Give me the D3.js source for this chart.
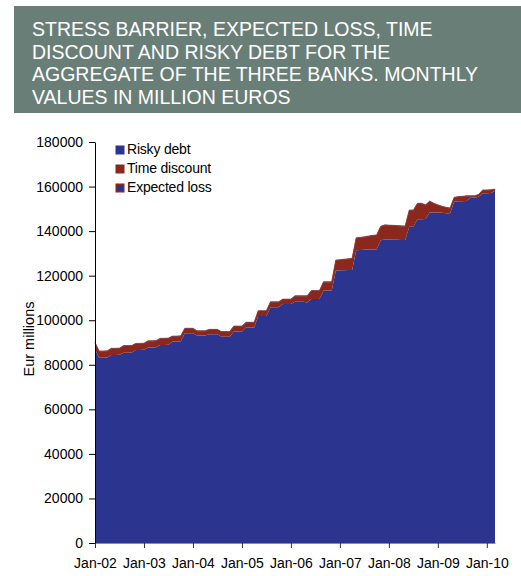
<!DOCTYPE html>
<html>
<head>
<meta charset="utf-8">
<script src="https://cdn.jsdelivr.net/npm/d3@7/dist/d3.min.js"></script>
<style>
  html, body { margin: 0; padding: 0; background: #ffffff; }
  svg { display: block; font-family: "Liberation Sans", Arial, sans-serif; }
</style>
</head>
<body>
<svg id="chart" width="521" height="576"></svg>
<script>
// Monthly values, Jan-02 to Mar-10 (EUR millions)
const titleLines = [
  "STRESS BARRIER, EXPECTED LOSS, TIME",
  "DISCOUNT AND RISKY DEBT FOR THE",
  "AGGREGATE OF THE THREE BANKS. MONTHLY",
  "VALUES IN MILLION EUROS"
];

const seriesNames = ["Risky debt", "Time discount", "Expected loss"];

const riskyDebt = [
  87000, 83200, 83200, 83300, 84400, 84400, 84500, 85400, 85400, 85500,
  86600, 86600, 86700, 87800, 87800, 87900, 88900, 88900, 89000, 90400,
  90400, 90500, 94100, 94100, 94100, 93100, 93100, 93100, 93700, 93700,
  93700, 92600, 92600, 92600, 94900, 94900, 94900, 96700, 96700, 96700,
  101900, 101900, 101900, 105800, 105800, 105800, 107300, 107300, 107300, 108300,
  108300, 108300, 108000, 109500, 109500, 109500, 113300, 113300, 113300, 122200,
  122400, 122400, 122500, 122500, 131400, 131500, 131600, 131700, 131800, 131800,
  135900, 136200, 136200, 136100, 136100, 136000, 136000, 142000, 142000, 145300,
  145300, 145400, 148400, 148400, 148300, 148200, 148000, 148000, 153200, 153400,
  153400, 153500, 155000, 155000, 155400, 157000, 157000, 157100, 158000
];

const timeDiscount = [
  2900, 2800, 2800, 2800, 2800, 2800, 2800, 3000, 3000, 3000,
  2800, 2800, 2800, 2800, 2800, 2800, 2800, 2800, 2800, 2300,
  2300, 2300, 2100, 2100, 2100, 2000, 2000, 2000, 2000, 2000,
  2000, 2100, 2100, 2100, 2300, 2300, 2300, 2200, 2200, 2200,
  2200, 2200, 2200, 2300, 2300, 2300, 2000, 2000, 2000, 2500,
  2500, 2500, 2800, 3600, 3600, 3600, 3800, 3800, 3800, 4600,
  4600, 4800, 4900, 5100, 5400, 5500, 5700, 5900, 6100, 6300,
  6100, 6400, 6300, 6300, 6200, 6200, 6100, 7300, 7300, 7000,
  7000, 6200, 4900, 3900, 3300, 2800, 2500, 2200, 1800, 1900,
  2000, 2200, 700, 700, 900, 1300, 1300, 1300, 700
];

const expectedLoss = [
  200, 200, 200, 200, 200, 200, 200, 200, 200, 200,
  200, 200, 200, 200, 200, 200, 200, 200, 200, 200,
  200, 200, 200, 200, 200, 200, 200, 200, 200, 200,
  200, 200, 200, 200, 200, 200, 200, 200, 200, 200,
  200, 200, 200, 200, 200, 200, 200, 200, 200, 200,
  200, 200, 200, 200, 200, 200, 200, 200, 200, 200,
  200, 200, 200, 200, 200, 200, 200, 200, 200, 200,
  200, 200, 200, 200, 200, 200, 200, 200, 200, 200,
  200, 200, 200, 200, 200, 200, 200, 200, 200, 200,
  200, 200, 200, 200, 200, 200, 200, 200, 200
];

const xTickIndex = [0, 12, 24, 36, 48, 60, 72, 84, 96];
const xTickLabels = ["Jan-02", "Jan-03", "Jan-04", "Jan-05", "Jan-06", "Jan-07", "Jan-08", "Jan-09", "Jan-10"];
const yTicks = [0, 20000, 40000, 60000, 80000, 100000, 120000, 140000, 160000, 180000];

const colors = { risky: "#2B3590", time: "#8A281E", border: "#8A281E" };

const svg = d3.select("#chart");

// Title banner
const banner = svg.append("g");
banner.append("rect")
  .attr("x", 14).attr("y", 6).attr("width", 507).attr("height", 107)
  .attr("fill", "#6A7E78");
banner.selectAll("text").data(titleLines).join("text")
  .attr("x", 32)
  .attr("y", (d, i) => 36 + i * 22.7)
  .attr("fill", "#ffffff")
  .attr("font-size", "19.5px")
  .text(d => d);

// Scales
const x = d3.scaleLinear().domain([0, riskyDebt.length - 1]).range([95, 495]);
const y = d3.scaleLinear().domain([0, 180000]).range([543, 142]);

// Stack the three series
const rows = riskyDebt.map((v, i) => ({
  "Risky debt": v,
  "Time discount": timeDiscount[i],
  "Expected loss": expectedLoss[i],
  idx: i
}));
const stacked = d3.stack().keys(seriesNames)(rows);

const area = d3.area()
  .x(d => x(d.data.idx))
  .y0(d => y(d[0]))
  .y1(d => y(d[1]));

const fills = [colors.risky, colors.time, colors.risky];
svg.append("g").selectAll("path").data(stacked).join("path")
  .attr("d", area)
  .attr("fill", (d, i) => fills[i])
  .attr("stroke", (d, i) => i === 2 ? colors.border : "none")
  .attr("stroke-width", 0.6);

// Y axis
const yAxis = svg.append("g")
  .attr("transform", "translate(95,0)")
  .call(d3.axisLeft(y).tickValues(yTicks).tickSize(6).tickSizeOuter(0).tickPadding(6).tickFormat(d3.format("d")));
yAxis.select(".domain").attr("stroke", "#000");
yAxis.selectAll(".tick line").attr("stroke", "#000");
yAxis.selectAll("text").attr("font-size", "14px").attr("font-family", "Liberation Sans, Arial, sans-serif").attr("fill", "#000");

// X axis
const xAxis = svg.append("g")
  .attr("transform", "translate(0,543)")
  .call(d3.axisBottom(x).tickValues(xTickIndex).tickSize(5).tickSizeOuter(0).tickPadding(10)
    .tickFormat((d, i) => xTickLabels[i]));
xAxis.select(".domain").attr("stroke", "#8c8c9c");
xAxis.selectAll(".tick line").attr("stroke", "#333");
xAxis.selectAll("text").attr("font-size", "14px").attr("font-family", "Liberation Sans, Arial, sans-serif").attr("fill", "#000");

// Y axis title
svg.append("text")
  .attr("transform", "translate(30,339) rotate(-90)")
  .attr("text-anchor", "middle")
  .attr("dominant-baseline", "middle")
  .attr("font-size", "14.5px")
  .attr("fill", "#000")
  .text("Eur millions");

// Legend
const legend = svg.append("g");
const legendItems = [
  { name: seriesNames[0], fill: colors.risky, stroke: "none" },
  { name: seriesNames[1], fill: colors.time, stroke: "none" },
  { name: seriesNames[2], fill: colors.risky, stroke: colors.border }
];
legendItems.forEach((it, i) => {
  const cy = 150 + i * 19;
  legend.append("rect")
    .attr("x", it.stroke === "none" ? 115.5 : 116.25)
    .attr("y", cy - (it.stroke === "none" ? 4.5 : 3.75))
    .attr("width", it.stroke === "none" ? 9 : 7.5)
    .attr("height", it.stroke === "none" ? 9 : 7.5)
    .attr("fill", it.fill)
    .attr("stroke", it.stroke)
    .attr("stroke-width", 1.5);
  legend.append("text")
    .attr("x", 127)
    .attr("y", cy)
    .attr("dominant-baseline", "middle")
    .attr("font-size", "14px")
    .attr("letter-spacing", "-0.2px")
    .attr("fill", "#000")
    .text(it.name);
});
</script>
</body>
</html>
